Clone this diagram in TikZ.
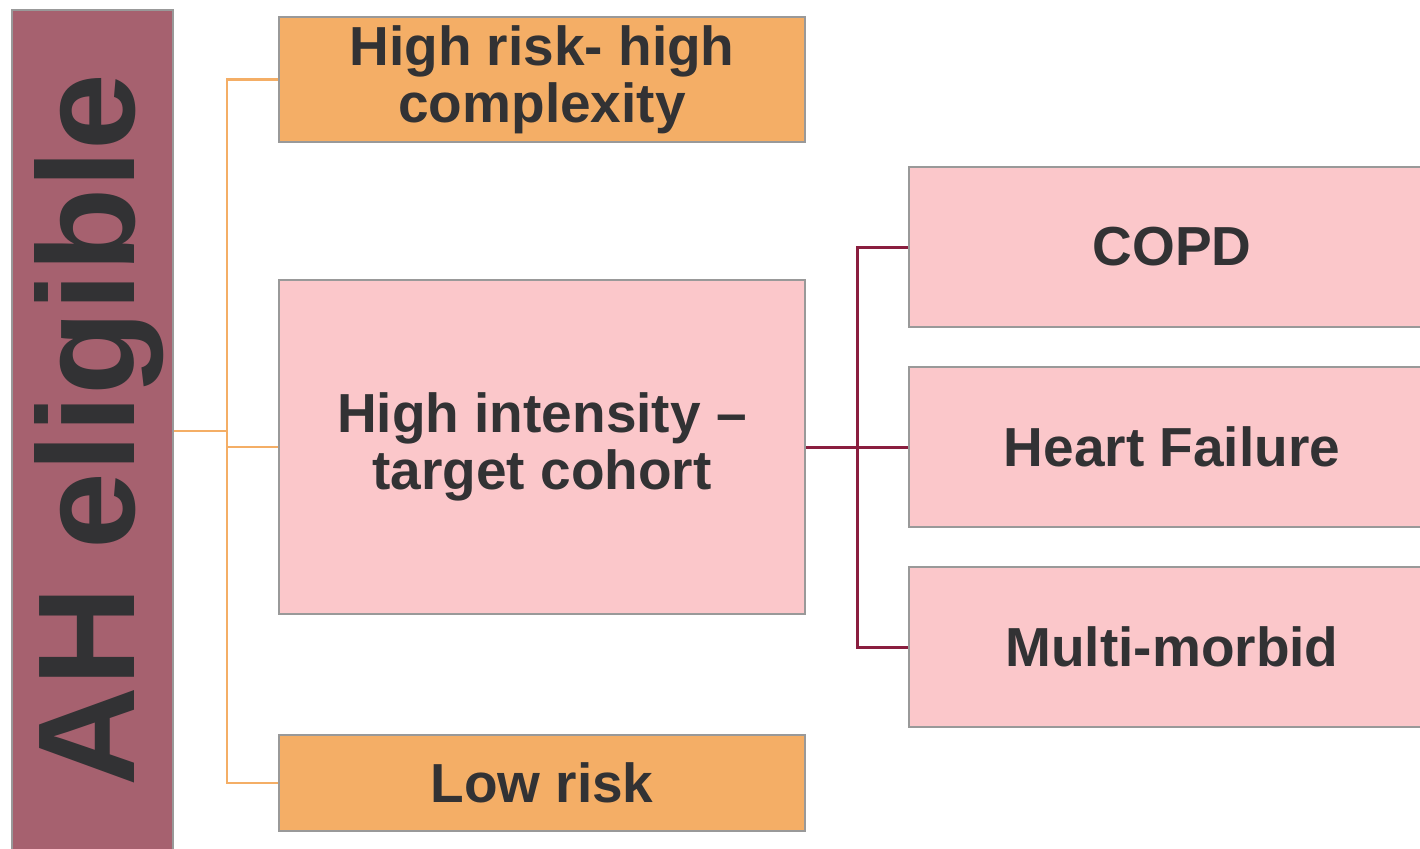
\documentclass[tikz,border=0pt]{standalone}
\usepackage{fontspec}
\setmainfont{Liberation Sans}
\usepackage{tikz}
\usetikzlibrary{calc}

\definecolor{mauve}{HTML}{A6616F}
\definecolor{apricot}{HTML}{F4AE66}
\definecolor{blush}{HTML}{FBC7CA}
\definecolor{wine}{HTML}{8A1E3F}
\definecolor{ink}{HTML}{323234}
\definecolor{edge}{HTML}{999999}

\begin{document}
\begin{tikzpicture}[x=1pt, y=-1pt,
    box/.style={draw=edge, line width=2.5pt, inner sep=0pt, text=ink,
        font=\bfseries\fontsize{55}{57}\selectfont, align=center},
    wide/.style={box, minimum width=526pt},
    orangeline/.style={draw=apricot, line width=2.5pt},
    wineline/.style={draw=wine, line width=3pt}]
    % 1. Frame of the picture
    \clip (0,0) rectangle (1420,848);
    \fill[white] (0,0) rectangle (1420,848);

    % 2. Left column
    \node[box, fill=mauve, rotate=90, minimum width=840pt, minimum height=161pt,
        font=\bfseries\fontsize{138}{138}\selectfont, text depth=17pt]
        (ah) at (92.5,430) {AH eligible};

    % 3. Risk groups
    \node[wide, fill=apricot, minimum height=125pt] (risk) at (542,79.5) {High risk- high\\complexity};
    \node[wide, fill=blush, minimum height=334pt] (target) at (542,447) {High intensity --\\target cohort};
    \node[wide, fill=apricot, minimum height=96pt] (low) at (542,783) {Low risk};

    % 4. Conditions (cut off on the right)
    \node[wide, fill=blush, minimum height=160pt] (copd) at (1172,247) {COPD};
    \node[wide, fill=blush, minimum height=160pt] (heart) at (1172,447) {Heart Failure};
    \node[wide, fill=blush, minimum height=160pt] (multi) at (1172,647) {Multi-morbid};

    % 5. Orange tree
    \coordinate (split) at (227,431);
    \draw[orangeline] (ah.south |- split) -- (split);
    \draw[orangeline] (risk.west) -| (split) |- (low.west);
    \draw[orangeline] (split) |- (target.west);

    % 6. Wine tree
    \coordinate (fork) at (857,447);
    \draw[wineline] (target.east) -- (fork) -- (heart.west);
    \draw[wineline] (copd.west) -| (fork) |- (multi.west);
\end{tikzpicture}
\end{document}
